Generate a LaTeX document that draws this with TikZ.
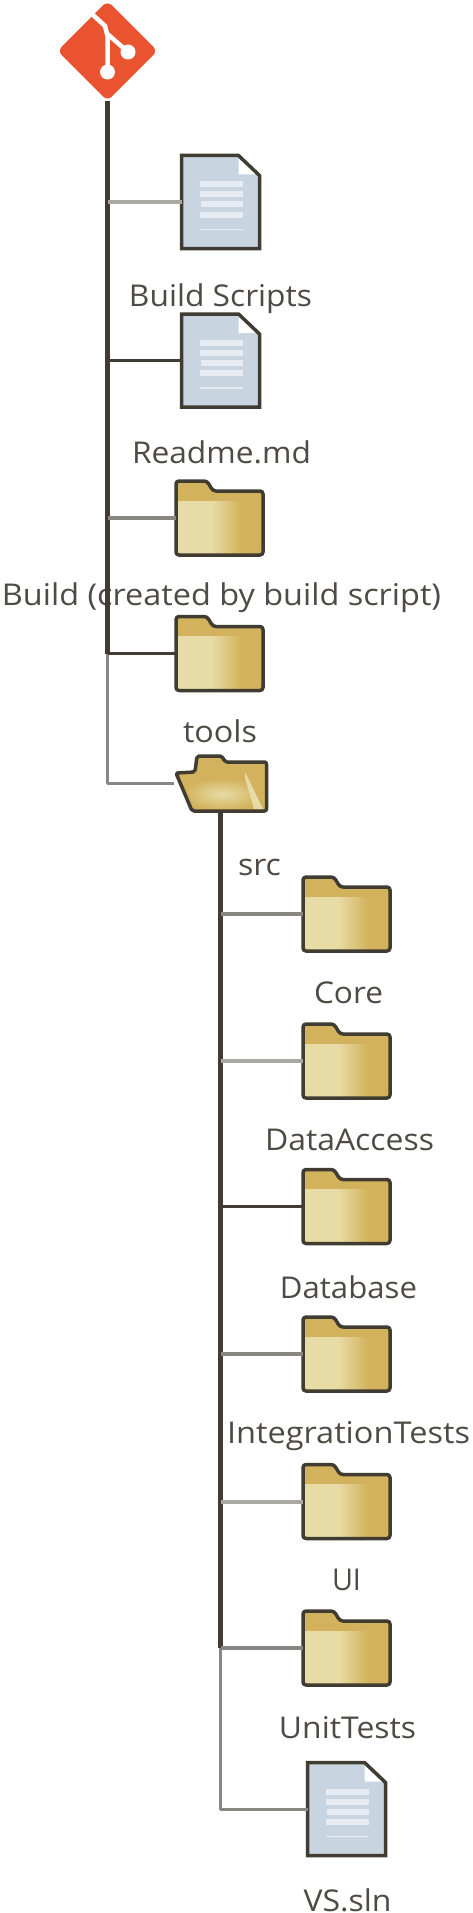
\documentclass[tikz,border=0pt]{standalone}
\usepackage{fontspec}
\usepackage{graphicx}
\setmainfont{Open Sans}
\usetikzlibrary{shapes.geometric}
\definecolor{inkdark}{HTML}{403C32}
\definecolor{inkgray}{HTML}{8A8682}
\definecolor{inklight}{HTML}{ABA8A4}
\definecolor{txtcol}{HTML}{4F4B44}
\definecolor{gitorange}{HTML}{E9532F}
\definecolor{docblue}{HTML}{C8D4E0}
\definecolor{docline}{HTML}{E6ECF1}
\definecolor{fl}{HTML}{E8DCA6}
\definecolor{fd}{HTML}{D2B25C}
\pgfdeclarehorizontalshading{foldershade}{100bp}{color(0bp)=(fl); color(45bp)=(fl); color(62.5bp)=(fd); color(100bp)=(fd)}
\tikzset{
  outline/.style={draw=inkdark,line width=3.5pt,line join=round},
  anchorbox/.style={inner sep=0pt,outer sep=0pt,draw=none},
  foldernode/.style={anchorbox,minimum width=87pt,minimum height=74pt},
  docnode/.style={anchorbox,minimum width=78pt,minimum height=93pt},
  lbl/.style={anchor=base,inner sep=0pt,text=txtcol,font=\fontsize{30}{32}\selectfont},
  limbdark/.style={draw=inkdark,line width=3pt},
  limbgray/.style={draw=inkgray,line width=3.2pt},
  limblight/.style={draw=inklight,line width=4pt},
  trunk/.style={draw=inkdark,line width=5.5pt},
  trunkthin/.style={draw=inkgray,line width=3pt,line join=round},
  stripe/.style={draw=docline,line width=6pt},
}
% name, left, top (stroke centre)
\newcommand{\folderat}[3]{%
  \node[foldernode] (#1) at (#2+43.5,#3+37) {};
  \begin{scope}[shift={(#2,#3)}]
    \fill[fd,rounded corners=3pt] (0,74)--(0,0)--(31,0)--(37,10)--(87,10)--(87,74)--cycle;
    \shade[shading=foldershade] (0,20) rectangle (87,72);
    \draw[outline,rounded corners=3pt] (0,74)--(0,0)--(31,0)--(37,10)--(87,10)--(87,74)--cycle;
  \end{scope}}
\newcommand{\docat}[3]{%
  \node[docnode] (#1) at (#2+39,#3+46.5) {};
  \begin{scope}[shift={(#2,#3)}]
    \fill[docblue] (0,0)--(57,0)--(78,20)--(78,93)--(0,93)--cycle;
    \fill[white] (57,2)--(57,19)--(76,19)--cycle;
    \draw[stripe] (18,29)--(61,29);
    \draw[stripe] (18,39)--(61,39);
    \draw[stripe] (19,49)--(61,49);
    \draw[stripe] (18,59)--(61,59);
    \draw[stripe,line width=1.5pt] (18,74)--(61,74);
    \draw[outline,line join=miter] (0,0)--(57,0)--(78,20)--(78,93)--(0,93)--cycle;
  \end{scope}}
% name, centre x, baseline y, width, text
\newcommand{\labelat}[5]{\node[lbl] (#1) at (#2,#3) {\resizebox{#4pt}{\height}{#5}};}
\begin{document}
\begin{tikzpicture}[x=1pt,y=-1pt]
\useasboundingbox (0,0) rectangle (472,1913);
\fill[white] (0,0) rectangle (472,1913);
% git logo
\node[diamond,anchorbox,fill=gitorange,rounded corners=6pt,minimum width=100pt,minimum height=100pt] (git) at (107.5,51) {};
\draw[white,line width=4.5pt] (92,14)--(105,26)--(107.5,36)--(107.5,72);
\draw[white,line width=4.5pt] (107.5,34)--(128,52);
\fill[white] (107.5,72) circle (7.5) (128,52) circle (7.5);
% documents and folders
\docat{buildscripts}{181.5}{155.5}
\docat{readme}{181.5}{314}
\folderat{buildf}{176}{481}
\folderat{toolsf}{176}{616.5}
\folderat{core}{303}{877}
\folderat{dataaccess}{303}{1024}
\folderat{database}{303}{1169.5}
\folderat{integration}{303}{1317}
\folderat{ui}{303}{1464.5}
\folderat{unittests}{303}{1611}
\docat{vssln}{307.5}{1762.5}
% open src folder
\node[anchorbox,minimum width=93pt,minimum height=57pt] (src) at (220.5,783) {};
\fill[fd,rounded corners=2pt] (195,772)--(197,756)--(222,756)--(225,762)--(266.5,762)--(266.5,811)--(192,811)--(176,773)--cycle;
\shade[inner color=fl,outer color=fd] (183,778)--(245,778)--(262,810)--(195,810)--cycle;
\fill[fl] (245,772)--(263,809)--(254,809)--(245,778)--cycle;
\draw[outline,rounded corners=2pt] (195,772)--(197,756)--(222,756)--(225,762)--(266.5,762)--(266.5,811)--(192,811)--(176,773)--cycle;
% labels
\labelat{l1}{220.5}{306}{183}{Build Scripts}
\labelat{l2}{221.5}{463}{179}{Readme.md}
\labelat{l3}{221.5}{605}{439}{Build (created by build script)}
\labelat{l4}{220}{742}{74}{tools}
\labelat{l5}{259.5}{875}{43}{src}
\labelat{l6}{348.5}{1003}{69}{Core}
\labelat{l7}{349.5}{1150}{169}{DataAccess}
\labelat{l8}{348.5}{1298}{137}{Database}
\labelat{l9}{348.5}{1443}{243}{IntegrationTests}
\labelat{l10}{346.5}{1590}{29}{UI}
\labelat{l11}{347.5}{1738}{137}{UnitTests}
\labelat{l12}{347.5}{1911}{88}{VS.sln}
% upper tree
\coordinate (t1) at (git.south |- buildscripts.west);
\coordinate (t2) at (git.south |- readme.west);
\coordinate (t3) at (git.south |- buildf.west);
\coordinate (t4) at (git.south |- toolsf.west);
\coordinate (t5) at (git.south |- src.west);
\draw[trunkthin] (t4)--(t5)--(src.west);
\draw[trunk] (git.south)--(t4);
\draw[limblight] (t1)--(buildscripts.west);
\draw[limbdark] (t2)--(readme.west);
\draw[limbgray] (t3)--(buildf.west);
\draw[limbdark] (t4)--(toolsf.west);
% lower tree
\coordinate (s1) at (src.south |- core.west);
\coordinate (s2) at (src.south |- dataaccess.west);
\coordinate (s3) at (src.south |- database.west);
\coordinate (s4) at (src.south |- integration.west);
\coordinate (s5) at (src.south |- ui.west);
\coordinate (s6) at (src.south |- unittests.west);
\coordinate (s7) at (src.south |- vssln.west);
\draw[trunkthin] (s6)--(s7)--(vssln.west);
\draw[trunk] (src.south)--(s6);
\draw[limbgray] (s1)--(core.west);
\draw[limblight] (s2)--(dataaccess.west);
\draw[limbdark] (s3)--(database.west);
\draw[limbgray] (s4)--(integration.west);
\draw[limblight] (s5)--(ui.west);
\draw[limbgray] (s6)--(unittests.west);
\end{tikzpicture}
\end{document}
